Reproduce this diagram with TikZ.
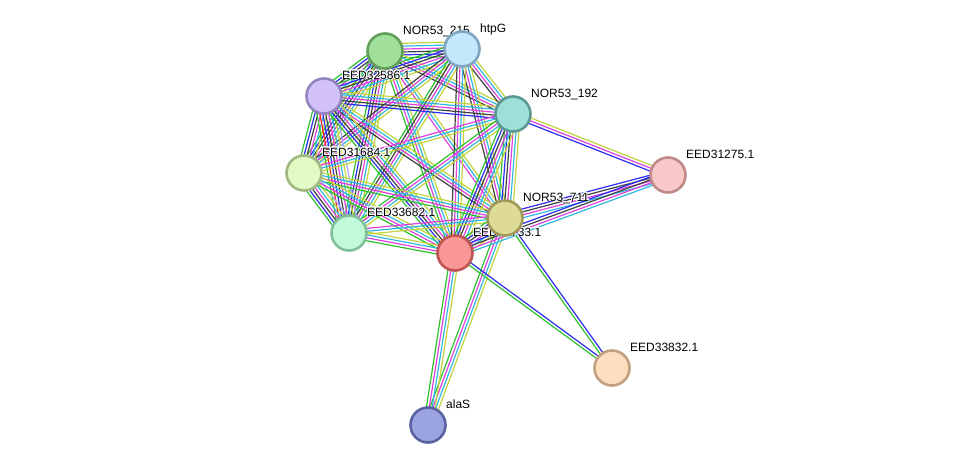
\documentclass[tikz,border=0pt]{standalone}
\usepackage{fontspec}
\setmainfont{Liberation Sans}
\usepackage{contour}
\contourlength{0.9pt}
\usetikzlibrary{calc}
\pgfdeclarelayer{edges}
\pgfdeclarelayer{labels}
\pgfsetlayers{edges,labels,main}

% evidence colours
\definecolor{evnb}{HTML}{2DC22D}
\definecolor{evfu}{HTML}{FF2020}
\definecolor{evco}{HTML}{2C2CF0}
\definecolor{evcx}{HTML}{404040}
\definecolor{evex}{HTML}{E040E0}
\definecolor{evdb}{HTML}{30B8E0}
\definecolor{evtm}{HTML}{C2D43C}
\definecolor{evho}{HTML}{A8A8F8}

% node colours
\definecolor{fA}{HTML}{A0E09A}\definecolor{bA}{HTML}{62A05A}
\definecolor{fB}{HTML}{C3E8FB}\definecolor{bB}{HTML}{80A6C0}
\definecolor{fC}{HTML}{D2C2F9}\definecolor{bC}{HTML}{9484C0}
\definecolor{fD}{HTML}{9CE0D8}\definecolor{bD}{HTML}{5A9A92}
\definecolor{fE}{HTML}{E2FAC4}\definecolor{bE}{HTML}{A2B882}
\definecolor{fF}{HTML}{DEDB96}\definecolor{bF}{HTML}{A09A5A}
\definecolor{fG}{HTML}{C2FAD9}\definecolor{bG}{HTML}{80C09A}
\definecolor{fH}{HTML}{F99696}\definecolor{bH}{HTML}{C05454}
\definecolor{fI}{HTML}{F8C8C8}\definecolor{bI}{HTML}{C08A8A}
\definecolor{fJ}{HTML}{FDDFC0}\definecolor{bJ}{HTML}{C0A080}
\definecolor{fK}{HTML}{9BA3E1}\definecolor{bK}{HTML}{5A62A0}

% bundle of parallel lines between two nodes
\newcommand{\sedge}[3]{%
  \foreach \c [count=\k] in {#3} {\xdef\nlines{\k}}
  \foreach \c [count=\k] in {#3} {
    \pgfmathsetmacro{\off}{(\k-(\nlines+1)/2)*2.9}
    \draw[ev,\c] ($(#1.center)!\off pt!90:(#2.center)$) -- ($(#2.center)!\off pt!-90:(#1.center)$);
  }
}

\begin{document}
\begin{tikzpicture}[x=1pt,y=-1pt,
  prot/.style={circle,draw,line width=2.6pt,minimum size=35pt,inner sep=0pt},
  lab/.style={anchor=base west,inner sep=0pt,font=\fontsize{12}{14}\selectfont},
  ev/.style={line width=1.2pt}]
\useasboundingbox (0,0) rectangle (976,471);

\node[prot,fill=fA,draw=bA] (n215) at (385,51) {};
\node[prot,fill=fB,draw=bB] (htpg) at (462,49) {};
\node[prot,fill=fC,draw=bC] (e32586) at (324,96) {};
\node[prot,fill=fD,draw=bD] (n192) at (513,114) {};
\node[prot,fill=fE,draw=bE] (e31684) at (304,173) {};
\node[prot,fill=fH,draw=bH] (e31733) at (455,253) {};
\node[prot,fill=fF,draw=bF] (n711) at (505,218) {};
\node[prot,fill=fG,draw=bG] (e33682) at (349,233) {};
\node[prot,fill=fI,draw=bI] (e31275) at (668,175) {};
\node[prot,fill=fJ,draw=bJ] (e33832) at (612,368) {};
\node[prot,fill=fK,draw=bK] (alas) at (428,425) {};

\begin{pgfonlayer}{edges}
\sedge{n215}{htpg}{evnb,evco,evcx,evex,evdb,evtm}
\sedge{n215}{e32586}{evnb,evco,evcx,evex,evdb,evtm}
\sedge{n215}{n192}{evcx,evex,evdb,evtm}
\sedge{n215}{e31684}{evnb,evco,evcx,evex,evdb,evtm}
\sedge{n215}{n711}{evex,evdb,evtm}
\sedge{n215}{e33682}{evnb,evco,evcx,evex,evdb,evtm}
\sedge{n215}{e31733}{evnb,evex,evdb,evtm}
\sedge{htpg}{e32586}{evnb,evco,evcx,evex,evdb,evtm}
\sedge{htpg}{n192}{evcx,evex,evdb,evtm}
\sedge{htpg}{e31684}{evcx,evex,evdb,evtm}
\sedge{htpg}{n711}{evcx,evex,evdb,evtm}
\sedge{htpg}{e33682}{evnb,evcx,evex,evdb,evtm}
\sedge{htpg}{e31733}{evcx,evex,evdb,evtm}
\sedge{e32586}{n192}{evco,evcx,evex,evdb,evtm}
\sedge{e32586}{e31684}{evnb,evco,evcx,evex,evdb,evtm}
\sedge{e32586}{n711}{evcx,evex,evdb,evtm}
\sedge{e32586}{e33682}{evnb,evfu,evco,evcx,evex,evdb,evtm,evho}
\sedge{e32586}{e31733}{evnb,evco,evcx,evex,evdb,evtm}
\sedge{n192}{e31684}{evex,evdb,evtm}
\sedge{n192}{n711}{evnb,evco,evcx,evex,evdb,evtm}
\sedge{n192}{e33682}{evnb,evex,evdb,evtm}
\sedge{n192}{e31733}{evnb,evco,evcx,evex,evdb,evtm}
\sedge{n192}{e31275}{evco,evex,evtm}
\sedge{e31684}{n711}{evnb,evex,evdb,evtm}
\sedge{e31684}{e33682}{evnb,evco,evcx,evex,evdb,evtm,evho}
\sedge{e31684}{e31733}{evnb,evex,evdb,evtm}
\sedge{n711}{e33682}{evex,evdb,evtm}
\sedge{n711}{e31733}{evnb,evco,evcx,evex,evdb,evtm}
\sedge{n711}{e31275}{evdb,evex,evcx,evco}
\sedge{n711}{e33832}{evnb,evco}
\sedge{n711}{alas}{evnb,evex,evdb,evtm}
\sedge{e33682}{e31733}{evnb,evex,evdb,evtm}
\sedge{e31733}{e31275}{evdb,evex,evcx,evco}
\sedge{e31733}{e33832}{evnb,evco}
\sedge{e31733}{alas}{evnb,evex,evdb,evtm}
\end{pgfonlayer}

\begin{pgfonlayer}{labels}
\node[lab] (l215) at ($(n215)+(18,-17)$) {\contour{white}{NOR53\_215}};
\node[lab] (lhtpg) at ($(htpg)+(18,-17)$) {\contour{white}{htpG}};
\node[lab] (l32586) at ($(e32586)+(18,-17)$) {\contour{white}{EED32586.1}};
\node[lab] (l192) at ($(n192)+(18,-17)$) {\contour{white}{NOR53\_192}};
\node[lab] (l31684) at ($(e31684)+(18,-17)$) {\contour{white}{EED31684.1}};
\node[lab] (l711) at ($(n711)+(18,-17)$) {\contour{white}{NOR53\_711}};
\node[lab] (l33682) at ($(e33682)+(18,-17)$) {\contour{white}{EED33682.1}};
\node[lab] (l31733) at ($(e31733)+(18,-17)$) {\contour{white}{EED31733.1}};
\node[lab] (l31275) at ($(e31275)+(18,-17)$) {\contour{white}{EED31275.1}};
\node[lab] (l33832) at ($(e33832)+(18,-17)$) {\contour{white}{EED33832.1}};
\node[lab] (lalas) at ($(alas)+(18,-17)$) {\contour{white}{alaS}};
\end{pgfonlayer}
\end{tikzpicture}
\end{document}
